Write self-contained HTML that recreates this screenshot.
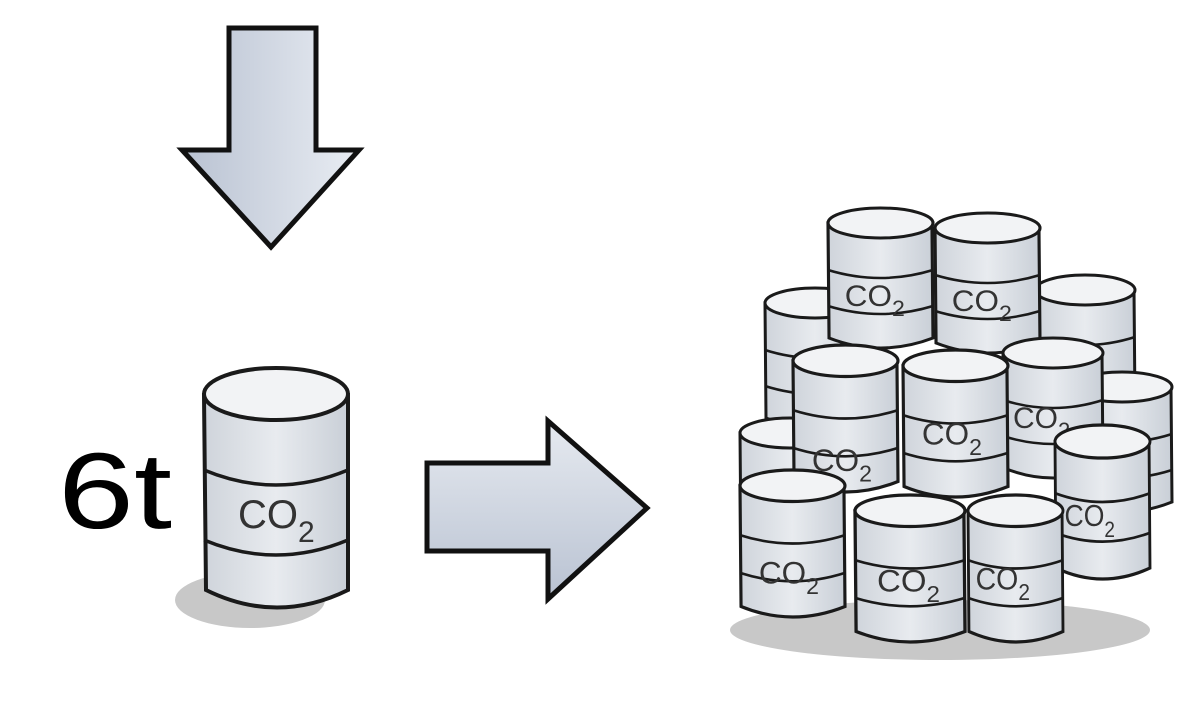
<!DOCTYPE html>
<html><head><meta charset="utf-8"><style>
html,body{margin:0;padding:0;background:#fff;width:1200px;height:716px;overflow:hidden}
svg{display:block}
text{font-family:"Liberation Sans","DejaVu Sans",sans-serif;fill:#333}
</style></head><body>
<svg width="1200" height="716" viewBox="0 0 1200 716" xmlns="http://www.w3.org/2000/svg">
<defs>
<linearGradient id="ag" x1="0" y1="0" x2="1" y2="0">
<stop offset="0" stop-color="#b9c2d2"/><stop offset="1" stop-color="#e9edf3"/></linearGradient>
<linearGradient id="ag2" x1="0" y1="0" x2="0" y2="1">
<stop offset="0" stop-color="#e6eaf0"/><stop offset="1" stop-color="#b9c2d2"/></linearGradient>
<linearGradient id="bg" x1="0" y1="0" x2="1" y2="0">
<stop offset="0" stop-color="#cfd4db"/><stop offset="0.5" stop-color="#e8ebef"/><stop offset="1" stop-color="#c9cfd7"/></linearGradient>
<g id="b">
<path d="M0,15 L1,130 Q50,150 100,130 L99,15 Z" fill="url(#bg)" stroke="#1a1a1a" stroke-width="3"/>
<ellipse cx="50" cy="15" rx="50" ry="15" fill="#f2f3f5" stroke="#1a1a1a" stroke-width="3"/>
<path d="M0,62 Q50,78 100,62 M0,98 Q50,114 100,98" fill="none" stroke="#1a1a1a" stroke-width="2.5"/>
</g>
</defs>
<path d="M229,28 L316,28 L316,150 L359,150 L271,247 L182,150 L229,150 Z" fill="url(#ag)" stroke="#111" stroke-width="5" stroke-linejoin="miter"/>
<path d="M427,463 L548,463 L548,421 L647,508 L548,599 L548,551 L427,551 Z" fill="url(#ag2)" stroke="#111" stroke-width="5"/>
<text x="58" y="528" font-size="108" textLength="114" lengthAdjust="spacingAndGlyphs" style="fill:#000">6t</text>
<ellipse cx="250" cy="600" rx="75" ry="28" fill="#c8c8c8"/>
<path d="M204,395 L206,590 Q277,625 348,590 L348,395 Z" fill="url(#bg)" stroke="#1a1a1a" stroke-width="4"/>
<ellipse cx="276" cy="394" rx="72" ry="26" fill="#f2f3f5" stroke="#1a1a1a" stroke-width="4"/>
<path d="M204,470 Q276,500 348,470 M204,540 Q276,570 348,540" fill="none" stroke="#1a1a1a" stroke-width="3.5"/>
<text x="238" y="528" font-size="40">CO<tspan font-size="30" dy="14">2</tspan></text>
<ellipse cx="940" cy="630" rx="210" ry="30" fill="#c8c8c8"/>
<g transform="translate(765,288)"><use href="#b"/></g>
<g transform="translate(1035,275)"><use href="#b"/></g>
<g transform="translate(740,418)"><use href="#b"/></g>
<g transform="translate(1072,372)"><use href="#b"/></g>
<g transform="translate(828,208) scale(1.05,1)"><use href="#b"/><text x="16" y="98" font-size="30">CO<tspan font-size="22" dy="10">2</tspan></text></g>
<g transform="translate(935,213) scale(1.05,1)"><use href="#b"/><text x="16" y="98" font-size="30">CO<tspan font-size="22" dy="10">2</tspan></text></g>
<g transform="translate(1003,338)"><use href="#b"/><text x="10" y="90" font-size="30">CO<tspan font-size="22" dy="10">2</tspan></text></g>
<g transform="translate(793,345) scale(1.05,1.05)"><use href="#b"/><text x="18" y="120" font-size="30">CO<tspan font-size="22" dy="10">2</tspan></text></g>
<g transform="translate(903,350) scale(1.05,1.05)"><use href="#b"/><text x="18" y="90" font-size="30">CO<tspan font-size="22" dy="10">2</tspan></text></g>
<g transform="translate(1055,425) scale(0.95,1.1)"><use href="#b"/><text x="10" y="92" font-size="28">CO<tspan font-size="20" dy="10">2</tspan></text></g>
<g transform="translate(740,470) scale(1.05,1.05)"><use href="#b"/><text x="18" y="108" font-size="30">CO<tspan font-size="22" dy="10">2</tspan></text></g>
<g transform="translate(968,495) scale(0.95,1.05)"><use href="#b"/><text x="8" y="90" font-size="30">CO<tspan font-size="22" dy="10">2</tspan></text></g>
<g transform="translate(855,495) scale(1.1,1.05)"><use href="#b"/><text x="20" y="92" font-size="30">CO<tspan font-size="22" dy="10">2</tspan></text></g>
</svg>
</body></html>
